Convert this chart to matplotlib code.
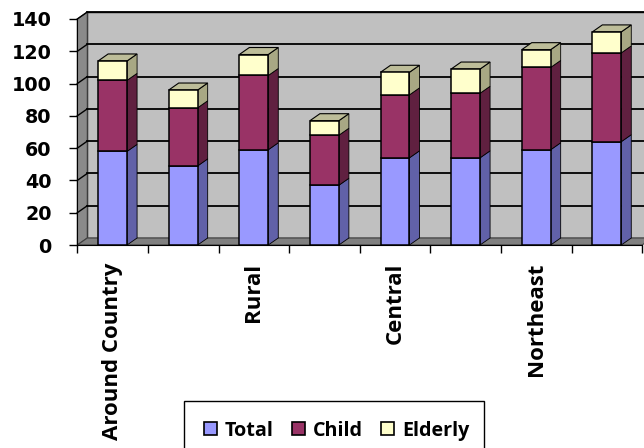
import matplotlib
matplotlib.use("Agg")
import matplotlib.pyplot as plt
from matplotlib.patches import Polygon, Patch, Rectangle

plt.rcParams['font.family'] = ['Open Sans', 'DejaVu Sans']
plt.rcParams['font.weight'] = 'bold'

# stacked values per area
labels = ['Around Country', '', 'Rural', '', 'Central', '', 'Northeast', '']
total = [58, 49, 59, 37, 54, 54, 59, 64]
child = [44, 36, 46, 31, 39, 40, 51, 55]
elderly = [12, 11, 13, 9, 14, 15, 11, 13]

series = [('Total', total, '#9999FF', '#6161A8', '#B0B0E0'),
          ('Child', child, '#993366', '#602040', '#B06080'),
          ('Elderly', elderly, '#FFFFCC', '#A8A884', '#BDBD99')]

W, H = 644, 448
fig = plt.figure(figsize=(W / 100, H / 100), dpi=100)
left, right, bot, top = 77.3, 642.1, 245, 19
ax = fig.add_axes([left / W, (H - bot) / H, (right - left) / W, (bot - top) / H])
n = len(total)
ax.set_xlim(0, n)
ax.set_ylim(0, 140)

# depth of the fake 3d box, in data units
px_x = (right - left) / n
px_y = (bot - top) / 140
DX = 10 / px_x
DY = 7 / px_y

# walls and floor
ax.add_patch(Polygon([(DX, DY), (n + DX, DY), (n + DX, 140 + DY), (DX, 140 + DY)],
                     closed=True, fc='#C0C0C0', ec='black', lw=1.0, zorder=0, clip_on=False))
ax.add_patch(Polygon([(0, 0), (DX, DY), (DX, 140 + DY), (0, 140)],
                     closed=True, fc='#8A8A8A', ec='#404040', lw=0.8, zorder=0, clip_on=False))
for v in range(20, 141, 20):
    ax.plot([DX, n + DX], [v + DY, v + DY], color='black', lw=1.3, zorder=1, clip_on=False)
    ax.plot([0, DX], [v, v + DY], color='black', lw=1.0, zorder=1, clip_on=False)
ax.add_patch(Polygon([(0, 0), (n, 0), (n + DX, DY), (DX, DY)],
                     closed=True, fc='#808080', ec='#404040', lw=0.8, zorder=1, clip_on=False))

# bars
width = 0.41
xs = [i + 0.5 for i in range(n)]
bottom = [0] * n
for k, (name, vals, front, side, topc) in enumerate(series):
    ax.bar(xs, vals, width=width, bottom=bottom, color=front, edgecolor='black',
           linewidth=1.1, zorder=4)
    for i in range(n):
        x1 = xs[i] + width / 2
        y0 = bottom[i]
        y1 = bottom[i] + vals[i]
        ax.add_patch(Polygon([(x1, y0), (x1 + DX, y0 + DY), (x1 + DX, y1 + DY), (x1, y1)],
                             closed=True, fc=side, ec='black', lw=0.6, zorder=3, clip_on=False))
        if k == len(series) - 1:
            x0 = xs[i] - width / 2
            ax.add_patch(Polygon([(x0, y1), (x1, y1), (x1 + DX, y1 + DY), (x0 + DX, y1 + DY)],
                                 closed=True, fc=topc, ec='black', lw=0.8, zorder=3, clip_on=False))
    bottom = [b + v for b, v in zip(bottom, vals)]

# axes and ticks
for s in ['top', 'right']:
    ax.spines[s].set_visible(False)
ax.spines['left'].set_zorder(2)
ax.spines['bottom'].set_zorder(2)
ax.set_yticks(range(0, 141, 20))
ax.set_yticklabels([str(v) for v in range(0, 141, 20)], family='DejaVu Sans',
                   fontweight='bold', fontsize=13.8)
ax.tick_params(axis='y', which='major', direction='out', length=5.5, width=1, pad=13)
ax.set_xticks(range(n + 1))
ax.set_xticklabels([])
ax.tick_params(axis='x', which='major', direction='out', length=6, width=1)
ax.set_xticks(xs, minor=True)
ax.set_xticklabels(labels, minor=True, rotation=90, fontsize=16, fontweight='bold',
                   va='top', ha='center')
ax.tick_params(axis='x', which='minor', length=0, pad=13)

# legend box drawn separately so its right margin stays tight
fig.patches.append(Rectangle((184 / W, -0.05), 300 / W, (H - 401) / H + 0.05,
                             transform=fig.transFigure, fc='white', ec='black', lw=1.0,
                             zorder=5))
handles = [Patch(fc=c, ec='black', lw=1.2) for _, _, c, _, _ in series]
leg = fig.legend(handles, [s[0] for s in series], loc='upper left',
                 bbox_to_anchor=(184 / W, (H - 401) / H), ncol=3, frameon=False,
                 borderaxespad=0, borderpad=1.0, handlelength=0.65, handleheight=0.65,
                 handletextpad=0.4, columnspacing=0.95, prop={'weight': 'bold', 'size': 14.2})
leg.set_zorder(6)

fig.savefig('out.png', dpi=100)
